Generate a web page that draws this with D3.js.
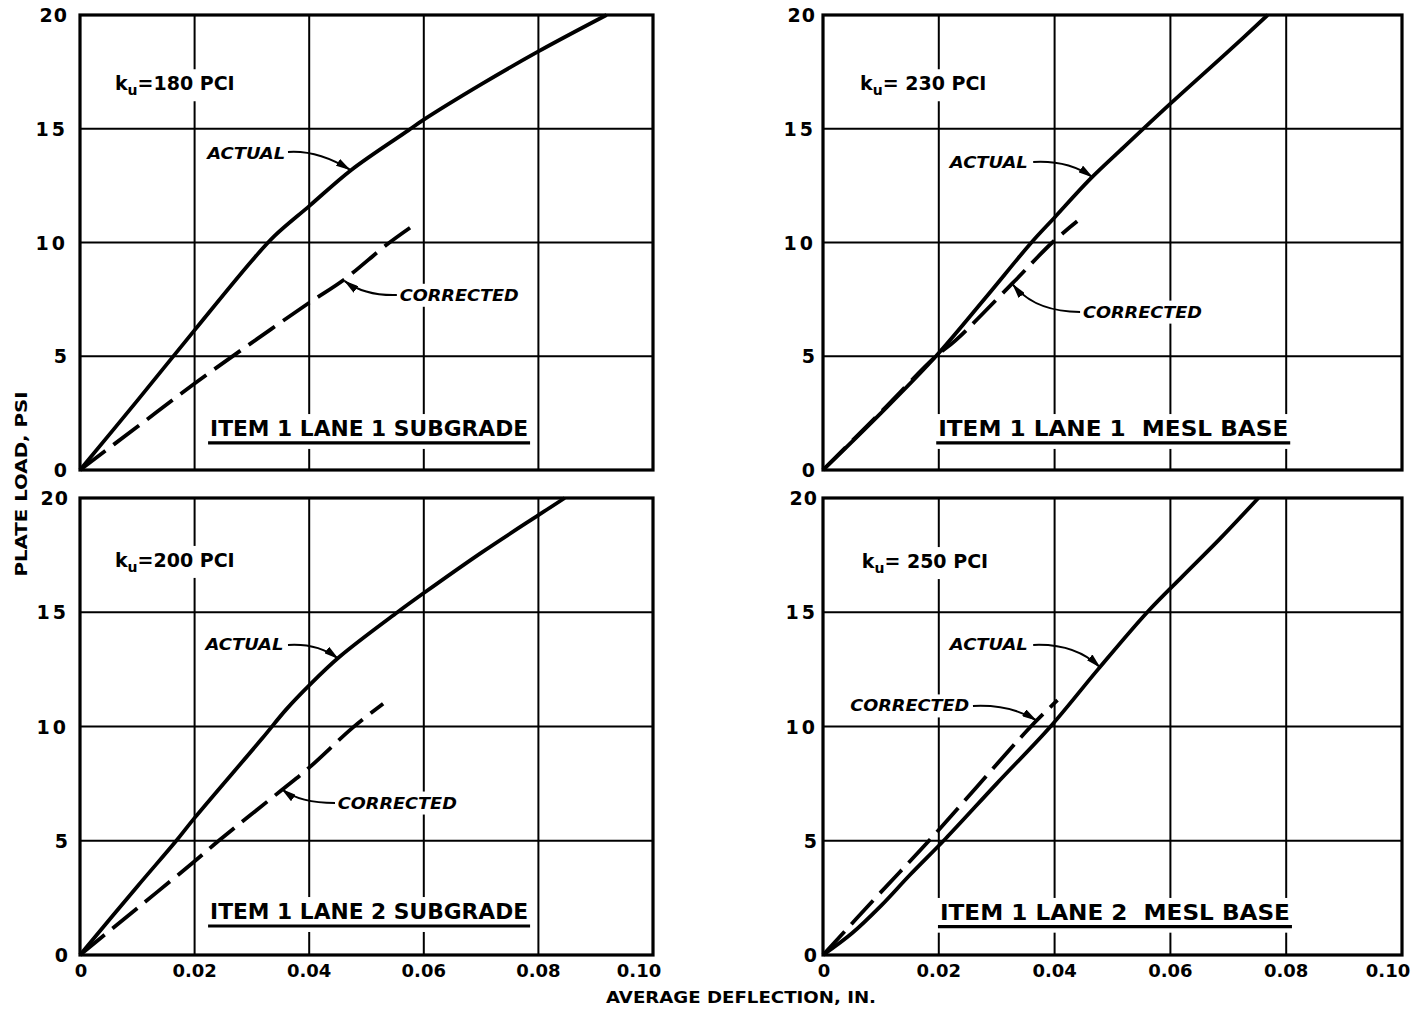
<!DOCTYPE html>
<html><head><meta charset="utf-8">
<script src="https://cdn.jsdelivr.net/npm/d3@7"></script>
<style>
html,body{margin:0;padding:0;background:#fff;}
svg{display:block;}
text{font-family:"DejaVu Sans",sans-serif;font-weight:bold;fill:#000;}
</style></head><body>
<svg id="chart" width="1426" height="1013"></svg>
<script>
// ---------------- DATA ----------------
const xTicks = [0, 0.02, 0.04, 0.06, 0.08, 0.10];
const xTickLabels = ["0", "0.02", "0.04", "0.06", "0.08", "0.10"];
const yTicks = [0, 5, 10, 15, 20];
const yTickLabels = ["0", "5", "10", "15", "20"];

const panelTitles = ["ITEM 1 LANE 1 SUBGRADE", "ITEM 1 LANE 1  MESL BASE",
                     "ITEM 1 LANE 2 SUBGRADE", "ITEM 1 LANE 2  MESL BASE"];
const kuLabels = ["=180 PCI", "= 230 PCI", "=200 PCI", "= 250 PCI"];
const xAxisTitle = "AVERAGE DEFLECTION, IN.";
const yAxisTitle = "PLATE LOAD, PSI";

// Item 1 Lane 1 Subgrade (deflection in., load psi)
const tlActualX = [0, 0.01, 0.02, 0.03, 0.034, 0.04, 0.0474, 0.0573, 0.06, 0.07, 0.08, 0.0919];
const tlActualY = [0, 3.05, 6.15, 9.2, 10.3, 11.6, 13.2, 14.93, 15.4, 16.95, 18.4, 20];
const tlCorrectedX = [0, 0.01, 0.02, 0.03, 0.04, 0.046, 0.0535, 0.0576];
const tlCorrectedY = [0, 1.9, 3.8, 5.6, 7.35, 8.35, 9.9, 10.65];

// Item 1 Lane 1 MESL Base
const trActualX = [0, 0.01, 0.0195, 0.028, 0.036, 0.04, 0.046, 0.052, 0.06, 0.07, 0.0768];
const trActualY = [0, 2.5, 5.0, 7.55, 10.0, 11.1, 12.75, 14.2, 16.1, 18.4, 20];
const trCorrectedX = [0, 0.01, 0.0195, 0.0229, 0.0327, 0.0396, 0.0439];
const trCorrectedY = [0, 2.55, 5.0, 5.7, 8.2, 10.0, 10.93];

// Item 1 Lane 2 Subgrade
const blActualX = [0, 0.01, 0.0168, 0.02, 0.0317, 0.036, 0.04, 0.0453, 0.0554, 0.06, 0.07, 0.08, 0.0846];
const blActualY = [0, 3.0, 5.0, 6.0, 9.45, 10.75, 11.8, 13.05, 15.0, 15.84, 17.6, 19.25, 20];
const blCorrectedX = [0, 0.01, 0.02, 0.0242, 0.0351, 0.04, 0.0476, 0.0529];
const blCorrectedY = [0, 2.05, 4.1, 5.0, 7.2, 8.2, 9.95, 11.0];

// Item 1 Lane 2 MESL Base
const brActualX = [0, 0.005, 0.01, 0.015, 0.0212, 0.03, 0.0393, 0.0475, 0.056, 0.062, 0.0685, 0.0752];
const brActualY = [0, 0.95, 2.15, 3.5, 5.1, 7.5, 10.0, 12.5, 15.0, 16.55, 18.2, 20];
const brCorrectedX = [0, 0.01, 0.0183, 0.0359, 0.0405];
const brCorrectedY = [0, 2.75, 5.0, 10.0, 11.15];

// ---------------- LAYOUT ----------------
const panels = [
  {box: {x0: 80, x1: 653, y0: 470, y1: 15}, showX: false, pad: 12, titleW: 318,
   ax: tlActualX, ay: tlActualY, cx: tlCorrectedX, cy: tlCorrectedY, title: panelTitles[0], ku: kuLabels[0],
   ann: {ku: [0.0061, 17.0], actual: [0.0222, 13.9], actualArrow: [[0.0363, 13.98], [0.0415, 14.07], [0.0471, 13.2]],
         corrected: [0.0558, 7.68], correctedArrow: [[0.0553, 7.69], [0.0497, 7.65], [0.0462, 8.3]],
         title: [0.0227, 1.8], underline: 1.19}},
  {box: {x0: 823, x1: 1402, y0: 470, y1: 15}, showX: false, pad: 7, titleW: 350,
   ax: trActualX, ay: trActualY, cx: trCorrectedX, cy: trCorrectedY, title: panelTitles[1], ku: kuLabels[1],
   ann: {ku: [0.0064, 17.0], actual: [0.0219, 13.52], actualArrow: [[0.0363, 13.54], [0.0423, 13.63], [0.0465, 12.88]],
         corrected: [0.0449, 6.94], correctedArrow: [[0.0444, 6.95], [0.0366, 6.95], [0.0328, 8.15]],
         title: [0.0199, 1.8], underline: 1.19}},
  {box: {x0: 80, x1: 653, y0: 955, y1: 498}, showX: true, pad: 11, titleW: 318,
   ax: blActualX, ay: blActualY, cx: blCorrectedX, cy: blCorrectedY, title: panelTitles[2], ku: kuLabels[2],
   ann: {ku: [0.0061, 17.29], actual: [0.0219, 13.57], actualArrow: [[0.0363, 13.57], [0.0415, 13.65], [0.045, 12.98]],
         corrected: [0.045, 6.65], correctedArrow: [[0.0445, 6.65], [0.0384, 6.65], [0.0353, 7.24]],
         title: [0.0227, 1.88], underline: 1.27}},
  {box: {x0: 823, x1: 1402, y0: 955, y1: 498}, showX: true, pad: 5, titleW: 350,
   ax: brActualX, ay: brActualY, cx: brCorrectedX, cy: brCorrectedY, title: panelTitles[3], ku: kuLabels[3],
   ann: {ku: [0.0067, 17.24], actual: [0.0219, 13.57], actualArrow: [[0.0363, 13.57], [0.0435, 13.65], [0.0478, 12.6]],
         corrected: [0.0047, 10.9], correctedArrow: [[0.0259, 10.9], [0.0323, 10.98], [0.0368, 10.28]],
         title: [0.0202, 1.84], underline: 1.24}}
];

const svg = d3.select("#chart");
svg.append("rect").attr("width", 1426).attr("height", 1013).attr("fill", "#fff");

const defs = svg.append("defs");
defs.append("marker").attr("id", "arrow")
  .attr("viewBox", "0 0 15 8").attr("refX", 14).attr("refY", 4)
  .attr("markerWidth", 15).attr("markerHeight", 8)
  .attr("markerUnits", "userSpaceOnUse").attr("orient", "auto")
  .append("path").attr("d", "M0,0 L15,4 L0,8 Z").attr("fill", "#000");

const gridLayer = svg.append("g");
const bgLayer = svg.append("g");
const curveLayer = svg.append("g");
const textLayer = svg.append("g");

function withBg(textSel, padX, padY) {
  const b = textSel.node().getBBox();
  bgLayer.append("rect")
    .attr("x", b.x - padX).attr("y", b.y - padY)
    .attr("width", b.width + 2 * padX).attr("height", b.height + 2 * padY)
    .attr("fill", "#fff");
}

panels.forEach(p => {
  const x = d3.scaleLinear().domain([0, 0.10]).range([p.box.x0, p.box.x1]);
  const y = d3.scaleLinear().domain([0, 20]).range([p.box.y0, p.box.y1]);

  // grid
  gridLayer.selectAll(null).data(xTicks.slice(1, -1)).enter().append("line")
    .attr("x1", d => x(d)).attr("x2", d => x(d)).attr("y1", y(0)).attr("y2", y(20))
    .attr("stroke", "#000").attr("stroke-width", 2);
  gridLayer.selectAll(null).data(yTicks.slice(1, -1)).enter().append("line")
    .attr("y1", d => y(d)).attr("y2", d => y(d)).attr("x1", x(0)).attr("x2", x(0.10))
    .attr("stroke", "#000").attr("stroke-width", 2);
  gridLayer.append("rect")
    .attr("x", x(0)).attr("y", y(20)).attr("width", x(0.10) - x(0)).attr("height", y(0) - y(20))
    .attr("fill", "none").attr("stroke", "#000").attr("stroke-width", 3.2);

  // y tick labels
  textLayer.selectAll(null).data(yTicks).enter().append("text")
    .attr("x", x(0) - p.pad).attr("y", d => y(d))
    .attr("text-anchor", "end").attr("dominant-baseline", "central")
    .attr("font-size", 19)
    .attr("letter-spacing", (d, i) => yTickLabels[i].length > 1 && yTickLabels[i][0] === "1" ? 3 : 1)
    .text((d, i) => yTickLabels[i]);

  // x tick labels
  if (p.showX) {
    textLayer.selectAll(null).data(xTicks).enter().append("text")
      .attr("x", (d, i) => x(d) + (i === 0 ? 1 : (i === xTicks.length - 1 ? -14 : 0)))
      .attr("y", y(0) + 15)
      .attr("text-anchor", "middle").attr("dominant-baseline", "central")
      .attr("font-size", 18)
      .text((d, i) => xTickLabels[i]);
  }

  // curves
  const line = d3.line().x(d => x(d[0])).y(d => y(d[1])).curve(d3.curveCatmullRom.alpha(0.5));
  curveLayer.append("path").datum(p.ax.map((v, i) => [v, p.ay[i]]))
    .attr("d", line).attr("fill", "none").attr("stroke", "#000")
    .attr("stroke-width", 3.8).attr("stroke-linejoin", "round");
  curveLayer.append("path").datum(p.cx.map((v, i) => [v, p.cy[i]]))
    .attr("d", line).attr("fill", "none").attr("stroke", "#000")
    .attr("stroke-width", 3.8).attr("stroke-dasharray", "32,10");

  // ku label
  const ku = textLayer.append("text")
    .attr("x", x(p.ann.ku[0])).attr("y", y(p.ann.ku[1]) + 7)
    .attr("font-size", 19).attr("font-weight", "bold");
  ku.append("tspan").text("k");
  ku.append("tspan").attr("dy", 5).attr("font-size", 14).text("u");
  ku.append("tspan").attr("dy", -5).style("white-space", "pre").text(p.ku);
  withBg(ku, 4, 3);

  // ACTUAL
  const act = textLayer.append("text")
    .attr("x", x(p.ann.actual[0])).attr("y", y(p.ann.actual[1]))
    .attr("dominant-baseline", "central").attr("font-size", 16).attr("font-style", "italic")
    .attr("textLength", 78).attr("lengthAdjust", "spacingAndGlyphs")
    .text("ACTUAL");
  withBg(act, 2, 2);

  // CORRECTED
  const cor = textLayer.append("text")
    .attr("x", x(p.ann.corrected[0])).attr("y", y(p.ann.corrected[1]))
    .attr("dominant-baseline", "central").attr("font-size", 16).attr("font-style", "italic")
    .attr("textLength", 119).attr("lengthAdjust", "spacingAndGlyphs")
    .text("CORRECTED");
  withBg(cor, 2, 2);

  // arrows
  [p.ann.actualArrow, p.ann.correctedArrow].forEach(a => {
    const path = d3.path();
    path.moveTo(x(a[0][0]), y(a[0][1]));
    path.quadraticCurveTo(x(a[1][0]), y(a[1][1]), x(a[2][0]), y(a[2][1]));
    textLayer.append("path").attr("d", path.toString())
      .attr("fill", "none").attr("stroke", "#000").attr("stroke-width", 2)
      .attr("marker-end", "url(#arrow)");
  });

  // title with underline
  const tt = textLayer.append("text")
    .attr("x", x(p.ann.title[0])).attr("y", y(p.ann.title[1]))
    .attr("dominant-baseline", "central").attr("font-size", 21)
    .attr("font-weight", "bold")
    .attr("textLength", p.titleW).attr("lengthAdjust", "spacingAndGlyphs")
    .style("white-space", "pre")
    .text(p.title);
  textLayer.append("line")
    .attr("x1", x(p.ann.title[0]) - 2).attr("x2", x(p.ann.title[0]) + p.titleW + 2)
    .attr("y1", y(p.ann.underline)).attr("y2", y(p.ann.underline))
    .attr("stroke", "#000").attr("stroke-width", 3.2);
  const b = tt.node().getBBox();
  bgLayer.append("rect").attr("x", b.x - 3).attr("y", b.y - 3)
    .attr("width", p.titleW + 10).attr("height", y(p.ann.underline) - b.y + 9)
    .attr("fill", "#fff");
});

// axis titles
textLayer.append("text").attr("x", 741).attr("y", 997)
  .attr("text-anchor", "middle").attr("dominant-baseline", "central")
  .attr("font-size", 16).attr("textLength", 270).attr("lengthAdjust", "spacingAndGlyphs")
  .text(xAxisTitle);
textLayer.append("text")
  .attr("transform", "translate(21,484) rotate(-90)")
  .attr("text-anchor", "middle").attr("dominant-baseline", "central")
  .attr("font-size", 16).attr("textLength", 185).attr("lengthAdjust", "spacingAndGlyphs")
  .text(yAxisTitle);
</script>
</body></html>
